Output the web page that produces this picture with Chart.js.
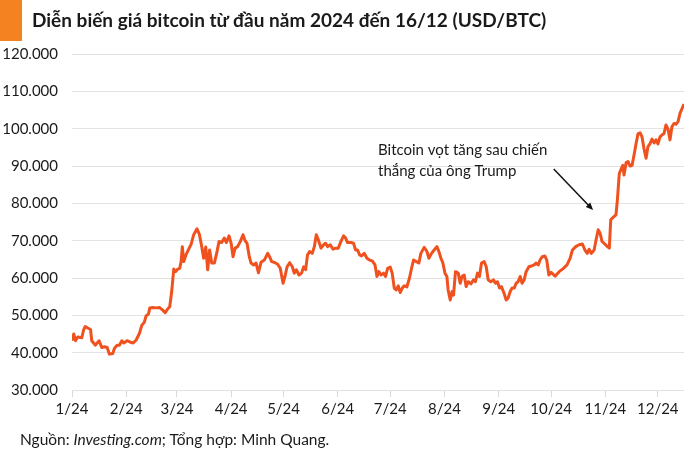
<!DOCTYPE html>
<html>
<head>
<meta charset="utf-8">
<script src="https://cdn.jsdelivr.net/npm/chart.js@4"></script>
<style>
  body { margin: 0; background: #fff; font-family: Lato, sans-serif; color: #1a1a1a; }
  #wrap { position: relative; width: 700px; height: 453px; }
  #bar { position: absolute; left: 0; top: 0; width: 22px; height: 41px; background: #f58220; }
  #title { position: absolute; left: 32px; top: 8px; font-size: 19px; font-weight: bold; white-space: nowrap; }
  #source { position: absolute; left: 20px; top: 430px; font-size: 15.5px; white-space: nowrap; }
  canvas { position: absolute; left: 0; top: 0; }
</style>
</head>
<body>
<div id="wrap">
  <canvas id="btcChart" width="700" height="453"></canvas>
  <div id="bar"></div>
  <div id="title">Diễn biến giá bitcoin từ đầu năm 2024 đến 16/12 (USD/BTC)</div>
  <div id="source">Nguồn: <i>Investing.com</i>; Tổng hợp: Minh Quang.</div>
</div>
<script>
// day of year 2024 (0 = 1/1)
const days = [
  0,1,2,3.3,5.6,6.7,7.5,9,10.6,11.3,13.3,14.4,15.5,17,18.6,20.1,21.4,23.3,24.3,25.8,
  27.1,28.5,29.6,31.5,33.4,35,36.7,38.6,39.9,41.4,42.4,43.7,44.5,46.2,48.1,50,51.9,53.3,54.7,55.9,
  57,58.2,59.3,60.5,61.6,62.4,63.1,63.9,65.3,
  66.2,68.1,69.6,71.5,72.9,74.2,75.3,76.5,77.6,78.7,79.9,81.4,83,84.1,85.6,87.1,88.3,89.8,91,92.1,
  93.3,94.7,96.3,97.8,99,100.1,101.4,102.4,103.9,105.3,106.6,108.1,110,111.9,113,114.2,116.1,117.6,119.1,120.7,
  121.8,123,124.5,126,127.1,128.3,129.8,131.3,132.5,133.6,134.7,
  135.9,137.4,138.6,139.7,140.9,142.4,143.9,145,146.2,147.7,149.3,150.7,152.3,153.8,155.3,156.5,157.6,159.5,161,162.2,
  163.3,164.5,165.6,167.1,168.7,170.2,171.7,173.3,174.4,175.5,176.7,178.2,179.3,180.5,182,183.1,184.3,185.4,186.6,187.7,
  188.9,190,191.5,193,194.2,195.3,196.9,198.4,199.5,201.4,203,204.1,
  205.6,207.1,208.7,209.8,211,212.1,213.3,214.4,215.1,216.3,217.4,218.2,219.3,220.9,222,223.1,224.3,225.4,226.6,228.1,
  229.6,230.7,231.9,233,234.2,235.7,236.9,238,239.5,241,242.2,243.3,244.5,245.6,247.1,248.3,249.4,250.6,251.7,252.9,
  254,255.1,256.3,257.4,258.6,259.7,261.3,262.7,264.3,265.4,266.6,267.7,268.9,270.4,271.5,272.7,274,276.3,278.6,280.9,283.1,
  284.9,286.2,288.1,290,291.9,293.3,294.7,295.7,297,298.6,299.7,300.9,302,303.1,304.7,306.2,307.3,308.1,309.6,311.1,
  311.9,313,313.8,315,315.7,316.9,318,319.1,320.3,321.4,322.6,323.7,324.9,326,327.1,328.3,329.4,330.6,331.7,332.9,
  334,335.1,336.3,337.4,338.6,339.7,340.9,342,343.1,344.3,345.4,346.6,347.7,350
];

// USD/BTC
const prices = [
  43200,45000,43200,44200,44000,46200,47000,46600,46200,43200,42000,42600,43200,41400,41600,41400,39600,39800,41200,42000,
  42000,43200,42600,43200,42800,42600,43400,45200,47300,48200,49900,50300,52000,52100,52000,52100,51400,50700,51700,52300,
  56300,62400,61700,62400,62600,64400,68400,64400,66300,
  67200,69000,71600,73200,71600,68400,65300,68300,62200,67500,64000,64000,67200,69800,69500,70700,69500,71300,69300,65700,
  68000,68400,69800,71600,70000,69300,65700,64000,63500,64000,61400,64200,64800,66600,65700,64400,64100,63700,62600,58600,
  60400,63000,64100,63000,61300,62200,60800,61300,63000,62200,66200,
  67100,66600,68400,71600,70200,68000,68900,69300,68400,68900,67700,68000,68000,69800,71300,70700,69500,69500,69300,67500,
  67500,66200,65900,66600,65300,64800,64600,63500,60400,61700,60800,61300,60400,62600,62900,61300,57300,56800,57900,56100,
  57300,57900,57600,60000,62600,64800,64400,64000,66600,68200,67100,65300,
  66600,67500,68400,67100,65300,64000,61300,60400,56800,54100,56400,55400,61700,61300,58600,60400,60800,57700,59000,58400,
  59500,59000,61300,60400,64000,64400,63000,59500,59000,59500,58600,59000,57300,57700,55900,54100,54600,56400,57300,57300,
  58600,59000,60400,58600,59500,61700,63000,63200,63500,64000,63500,64800,65700,65900,64800,60800,61500,60500,61700,62500,63500,
  65300,67500,68400,68900,69100,67500,66600,67700,66600,67500,70200,72900,72000,69800,69100,68400,68000,75600,76300,76900,
  80900,88000,88900,90200,87600,90900,91200,90000,90200,92900,96000,98600,98900,97800,94700,92100,95200,96000,97200,96200,
  97000,95900,97800,98300,98700,101000,99800,97000,100500,101400,101200,101900,104100,106600
];

const monthStarts = [0, 31, 60, 91, 121, 152, 182, 213, 244, 274, 305, 335];
const monthLabels = ['1/24', '2/24', '3/24', '4/24', '5/24', '6/24', '7/24', '8/24', '9/24', '10/24', '11/24', '12/24'];

const noteLines = ['Bitcoin vọt tăng sau chiến', 'thắng của ông Trump'];
const noteAt = { x: 175, y: 94300 };
const arrowFrom = { x: 275.5, y: 89200 };
const arrowTo = { x: 298, y: 78200 };

const lineColor = '#f0521f';
const textColor = '#1a1a1a';
const tickFont = { family: 'Lato', size: 15 };

function fmt(v) {
  return String(v).replace(/\B(?=(\d{3})+(?!\d))/g, '.');
}

const notePlugin = {
  id: 'note',
  afterDatasetsDraw(chart) {
    const { ctx, scales: { x, y } } = chart;
    ctx.save();
    ctx.fillStyle = textColor;
    ctx.font = '15px Lato';
    ctx.textBaseline = 'middle';
    const tx = x.getPixelForValue(noteAt.x), ty = y.getPixelForValue(noteAt.y);
    noteLines.forEach((t, i) => ctx.fillText(t, tx, ty + i * 21));

    const x1 = x.getPixelForValue(arrowFrom.x), y1 = y.getPixelForValue(arrowFrom.y);
    const x2 = x.getPixelForValue(arrowTo.x), y2 = y.getPixelForValue(arrowTo.y);
    const a = Math.atan2(y2 - y1, x2 - x1);
    ctx.strokeStyle = '#111';
    ctx.lineWidth = 1.5;
    ctx.beginPath();
    ctx.moveTo(x1, y1);
    ctx.lineTo(x2 - 6 * Math.cos(a), y2 - 6 * Math.sin(a));
    ctx.stroke();
    ctx.fillStyle = '#111';
    ctx.beginPath();
    ctx.moveTo(x2, y2);
    ctx.lineTo(x2 - 8 * Math.cos(a - 0.4), y2 - 8 * Math.sin(a - 0.4));
    ctx.lineTo(x2 - 8 * Math.cos(a + 0.4), y2 - 8 * Math.sin(a + 0.4));
    ctx.closePath();
    ctx.fill();
    ctx.restore();
  }
};

const ctx = document.getElementById('btcChart').getContext('2d');
new Chart(ctx, {
  type: 'line',
  data: {
    datasets: [{
      data: days.map((d, i) => ({ x: d, y: prices[i] })),
      borderColor: lineColor,
      borderWidth: 3,
      pointRadius: 0,
      tension: 0,
      borderJoinStyle: 'round'
    }]
  },
  options: {
    responsive: false,
    animation: false,
    layout: { padding: { top: 54, right: 16, bottom: 33, left: 0 } },
    plugins: { legend: { display: false }, tooltip: { enabled: false } },
    scales: {
      x: {
        type: 'linear', min: 0, max: 350,
        afterBuildTicks: s => { s.ticks = monthStarts.map(v => ({ value: v })); },
        afterFit: s => { s.height = 30; },
        ticks: { callback: (v, i) => monthLabels[i], font: tickFont, color: textColor, padding: 3, maxRotation: 0, autoSkip: false },
        grid: { drawOnChartArea: false, color: '#d9d9d9', tickLength: 7 },
        border: { display: false }
      },
      y: {
        min: 30000, max: 120000,
        afterFit: s => { s.width = 72; },
        ticks: { stepSize: 10000, callback: v => fmt(v), font: tickFont, color: textColor, padding: 14 },
        grid: { color: '#e3e3e3', drawTicks: false },
        border: { display: false }
      }
    }
  },
  plugins: [notePlugin]
});
</script>
</body>
</html>
